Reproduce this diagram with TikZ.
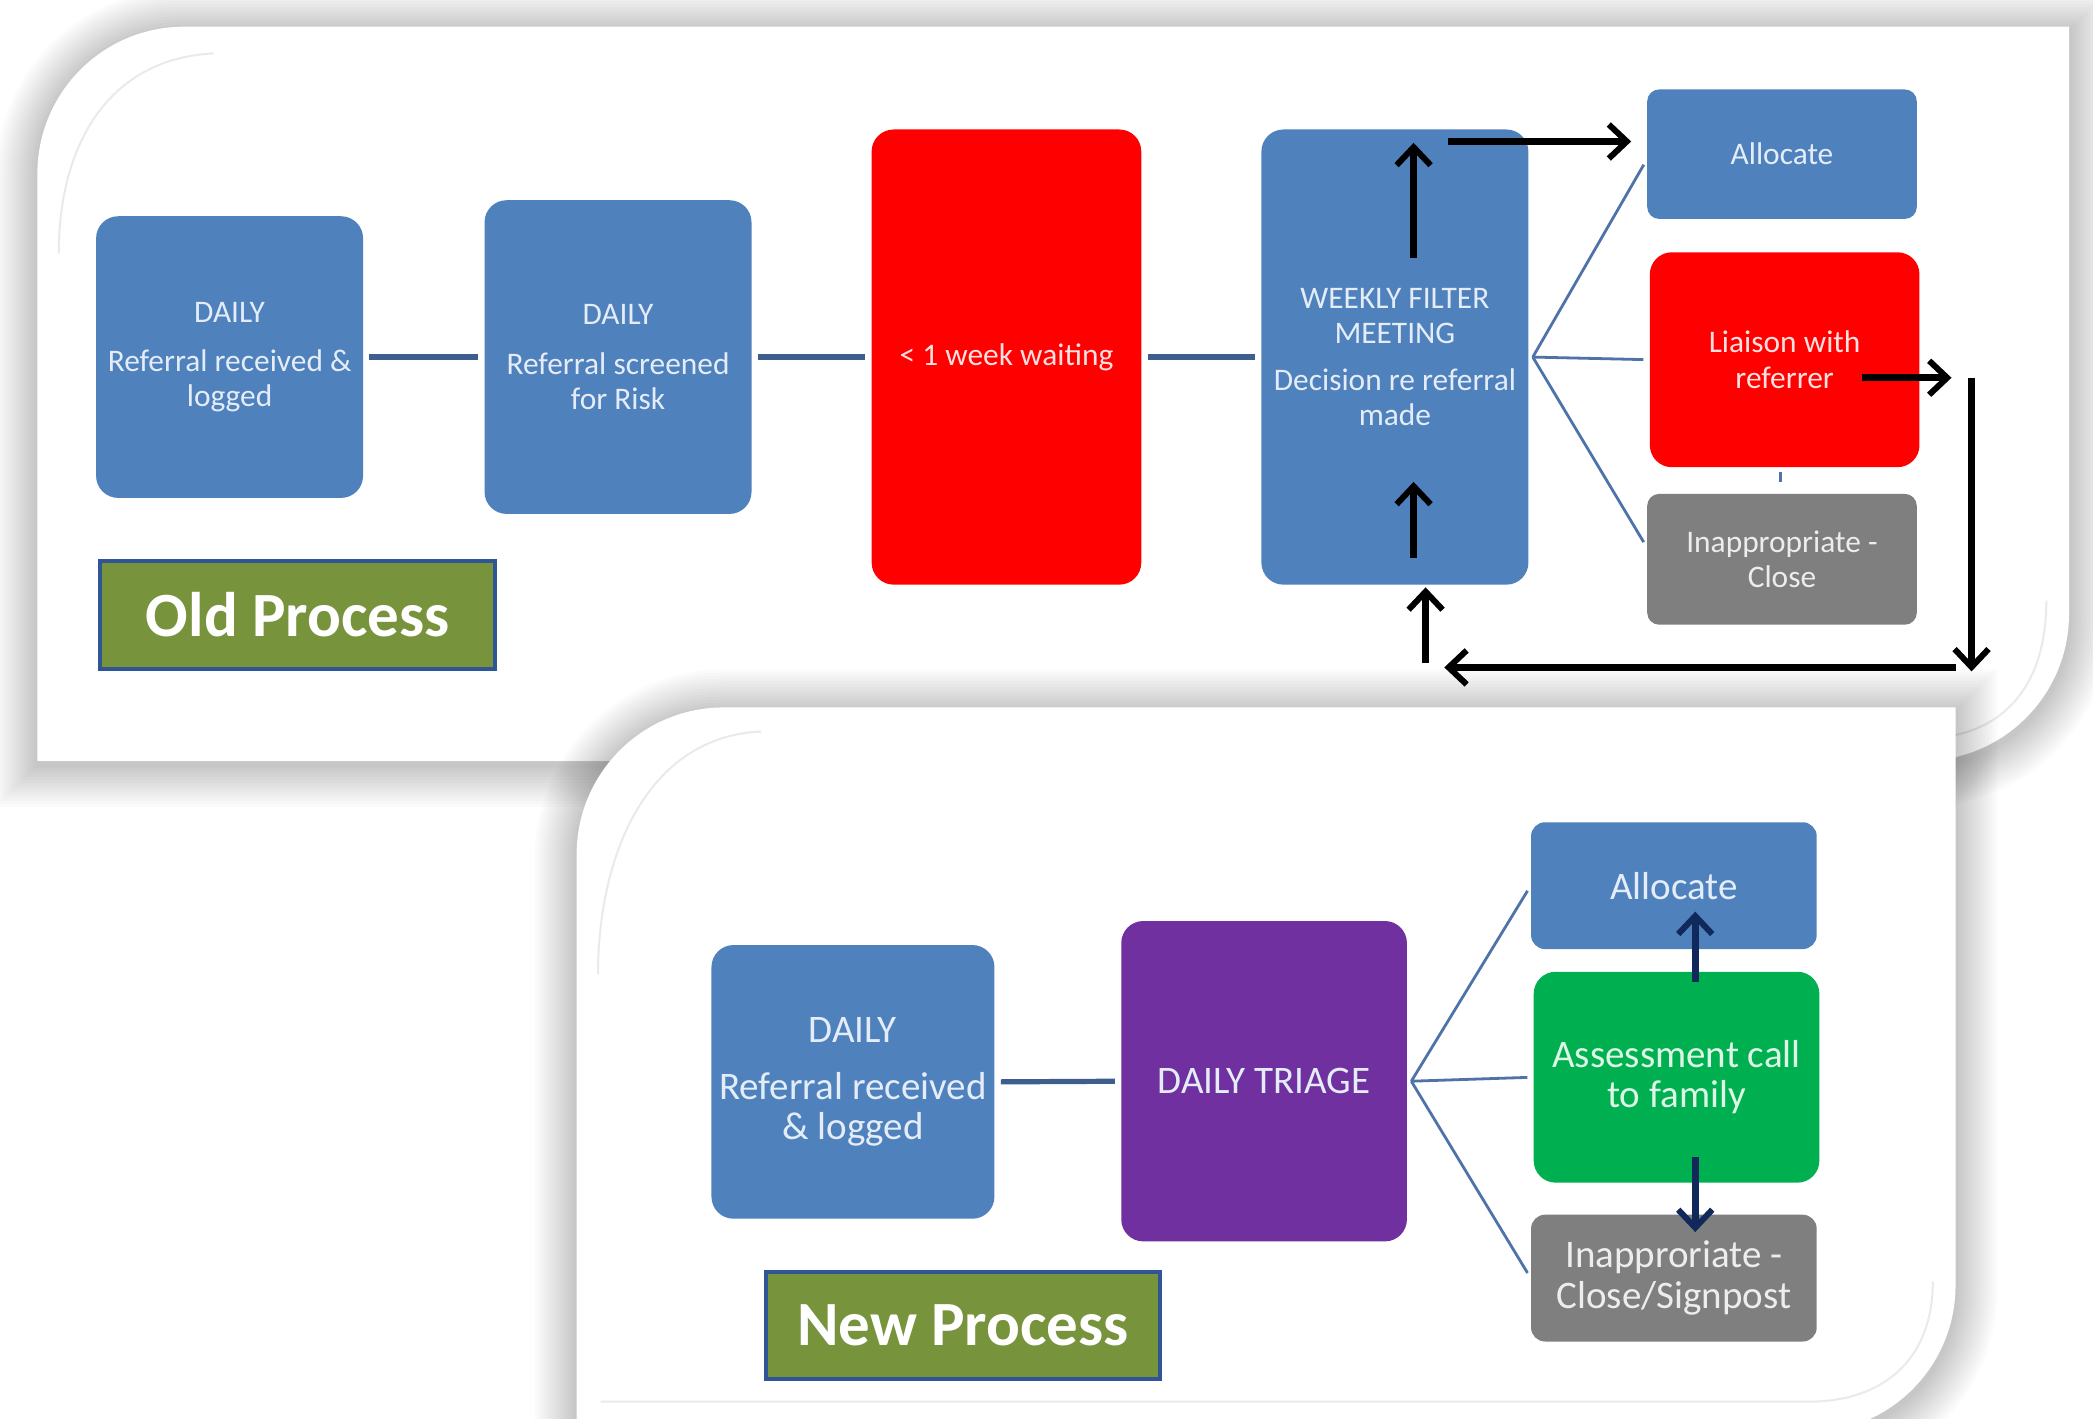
\documentclass[tikz,border=0pt]{standalone}
\usepackage{fontspec}
\setmainfont{Carlito}
\usetikzlibrary{arrows.meta,calc}
\definecolor{boxblue}{HTML}{4F81BD}
\definecolor{boxred}{HTML}{FF0000}
\definecolor{boxgrey}{HTML}{7F7F7F}
\definecolor{boxpurple}{HTML}{7030A0}
\definecolor{boxgreen}{HTML}{00B050}
\definecolor{olivegreen}{HTML}{77933C}
\definecolor{labelborder}{HTML}{2F5597}
\definecolor{linkblue}{HTML}{3E5F8E}
\definecolor{fanblue}{HTML}{4F72A8}
\definecolor{navyarrow}{HTML}{10285A}
\definecolor{bluetext}{HTML}{E4ECF7}
\definecolor{redtext}{HTML}{FFE0E0}
\definecolor{greytext}{HTML}{EDEDED}
\definecolor{greentext}{HTML}{DDF7E6}
\definecolor{bevel}{HTML}{EAEAEA}
\def\u{0.6674pt}
\def\oldpanel{(28,570) -- (28,130) .. controls (28,69.25) and (77.25,20) .. (138,20) -- (1550,20) -- (1550,460) .. controls (1550,520.75) and (1500.75,570) .. (1440,570) -- cycle}
\def\newpanel{(432,1120) -- (432,640) .. controls (432,579.25) and (481.25,530) .. (542,530) -- (1465,530) -- (1465,963) .. controls (1465,1023.75) and (1415.75,1073) .. (1355,1073) -- (432,1073) -- cycle}
\tikzset{
  procbox/.style={rounded corners=11pt, inner sep=2pt, align=center, draw=none},
  oldtext/.style={font=\fontsize{15.7}{17.6}\selectfont},
  newtext/.style={font=\fontsize{19.5}{20.2}\selectfont},
  tag/.style={fill=olivegreen, draw=labelborder, line width=2pt, text=white,
    font=\bfseries\fontsize{31.5}{34}\selectfont, inner sep=0pt},
  linkline/.style={draw=linkblue, line width=2.6pt},
  fanline/.style={draw=fanblue, line width=1.4pt},
  blackarrow/.style={draw=black, line width=3.3pt, -{Straight Barb[length=9pt,width=17pt,line width=3pt]}},
  navyarr/.style={draw=navyarrow, line width=3.3pt, -{Straight Barb[length=9pt,width=17pt,line width=3pt]}},
  shadowline/.style={draw=black, opacity=0.017}
}
\begin{document}
\begin{tikzpicture}[x=\u, y=-\u]
\useasboundingbox (0,0) rectangle (1568,1063);
\clip (0,0) rectangle (1568,1063);
\fill[white] (0,0) rectangle (1568,1063);

% ---------- old panel ----------
\begin{scope}[yshift=-2pt]
\foreach \w in {3,6,...,42}
  \draw[shadowline, line width=\w pt] \oldpanel;
\end{scope}
\fill[white] \oldpanel;
\draw[bevel, line width=1pt] (44,190) .. controls (44,110) and (80,44) .. (160,40);
\draw[bevel, line width=1pt] (1533,450) .. controls (1533,510) and (1505,548) .. (1450,553);

\node[procbox, fill=boxblue, text=bluetext, oldtext, minimum width={200*\u}, minimum height={211*\u}] (a1) at (172,267.5)
  {DAILY\\[7pt]Referral received \&\\logged};
\node[procbox, fill=boxblue, text=bluetext, oldtext, minimum width={200*\u}, minimum height={235*\u}] (a2) at (463,267.5)
  {DAILY\\[7pt]Referral screened\\for Risk};
\node[procbox, fill=boxred, text=redtext, oldtext, minimum width={202*\u}, minimum height={341*\u}] (a3) at (754,267.5)
  {< 1 week waiting};
\node[procbox, fill=boxblue, text=bluetext, oldtext, minimum width={200*\u}, minimum height={341*\u}] (a4) at (1045,267.5)
  {WEEKLY FILTER\\MEETING\\[6pt]Decision re referral\\made};
\node[procbox, rounded corners=6pt, fill=boxblue, text=bluetext, oldtext, minimum width={202*\u}, minimum height={97*\u}] (alloc1) at (1335,115.5)
  {Allocate};
\node[procbox, fill=boxred, text=redtext, oldtext, minimum width={202*\u}, minimum height={161*\u}] (liaison) at (1337,269.5)
  {Liaison with\\referrer};
\node[procbox, rounded corners=6pt, fill=boxgrey, text=greytext, oldtext, minimum width={202*\u}, minimum height={98*\u}] (inapp1) at (1335,419)
  {Inappropriate -\\Close};
\node[tag, minimum width={296*\u}, minimum height={81*\u}] (oldtag) at (223,460.5) {Old Process};

\draw[linkline, shorten <=3pt, shorten >=3pt] (a1.east) -- (a2.west);
\draw[linkline, shorten <=3pt, shorten >=3pt] (a2.east) -- (a3.west);
\draw[linkline, shorten <=3pt, shorten >=3pt] (a3.east) -- (a4.west);
\coordinate (fo) at ($(a4.east)+(3,0)$);
\draw[fanline, shorten >=3pt] (fo) -- ($(alloc1.west)+(0,4)$);
\draw[fanline, shorten >=3pt] (fo) -- (liaison.west);
\draw[fanline, shorten >=3pt] (fo) -- ($(inapp1.west)+(0,-9)$);
\draw[draw=fanblue, line width=1.8pt] ($(liaison.south)+(-3,3)$) -- ($(liaison.south)+(-3,11)$);

\coordinate (p1) at (1059,193);  \coordinate (p2) at (1059,107);
\coordinate (p3) at (1085,106);  \coordinate (p4) at (1222,106);
\coordinate (p5) at (1059,418);  \coordinate (p6) at (1059,361);
\coordinate (p7) at (1395,283);  \coordinate (p8) at (1462,283);
\coordinate (p9) at (1477,283);  \coordinate (p10) at (1477,503);
\coordinate (p11) at (1465,500); \coordinate (p12) at (1082,500);
\coordinate (p13) at (1068,497); \coordinate (p14) at (1068,440);
\draw[blackarrow] (p1) -- (p2);
\draw[blackarrow] (p3) -- (p4);
\draw[blackarrow] (p5) -- (p6);
\draw[blackarrow] (p7) -- (p8);
\draw[blackarrow] (p9) -- (p10);
\draw[blackarrow] (p11) -- (p12);
\draw[blackarrow] (p13) -- (p14);

% ---------- new panel ----------
\begin{scope}[yshift=-2pt]
\foreach \w in {3,6,...,42}
  \draw[shadowline, line width=\w pt] \newpanel;
\end{scope}
\fill[white] \newpanel;
\draw[bevel, line width=1pt] (448,730) .. controls (448,640) and (485,552) .. (570,548);
\draw[bevel, line width=1pt] (1448,960) .. controls (1448,1015) and (1415,1048) .. (1360,1050) -- (450,1050);

\node[procbox, fill=boxblue, text=bluetext, newtext, minimum width={212*\u}, minimum height={205*\u}] (b1) at (639,810.5)
  {DAILY\\[8.5pt]Referral received\\\& logged};
\node[procbox, fill=boxpurple, text=bluetext, newtext, minimum width={214*\u}, minimum height={240*\u}] (b2) at (947,810)
  {DAILY TRIAGE};
\node[procbox, rounded corners=7pt, fill=boxblue, text=bluetext, newtext, minimum width={214*\u}, minimum height={95*\u}] (b3) at (1254,663.5)
  {Allocate};
\node[procbox, fill=boxgreen, text=greentext, newtext, minimum width={214*\u}, minimum height={158*\u}] (b4) at (1256,807)
  {Assessment call\\to family};
\node[procbox, rounded corners=7pt, fill=boxgrey, text=greytext, newtext, minimum width={214*\u}, minimum height={95*\u}] (b5) at (1254,957.5)
  {Inapproriate -\\Close/Signpost};
\node[tag, minimum width={295*\u}, minimum height={80*\u}] (newtag) at (721.5,993) {New Process};

\draw[linkline, shorten <=3pt, shorten >=3pt] (b1.east) -- (b2.west);
\coordinate (fn) at ($(b2.east)+(3,0)$);
\draw[fanline, shorten >=3pt] (fn) -- (b3.west);
\draw[fanline, shorten >=3pt] (fn) -- (b4.west);
\draw[fanline, shorten >=3pt] (fn) -- (b5.west);

\coordinate (q1) at (1270,736); \coordinate (q2) at (1270,683);
\coordinate (q3) at (1270,867); \coordinate (q4) at (1270,923);
\draw[navyarr] (q1) -- (q2);
\draw[navyarr] (q3) -- (q4);
\end{tikzpicture}
\end{document}
